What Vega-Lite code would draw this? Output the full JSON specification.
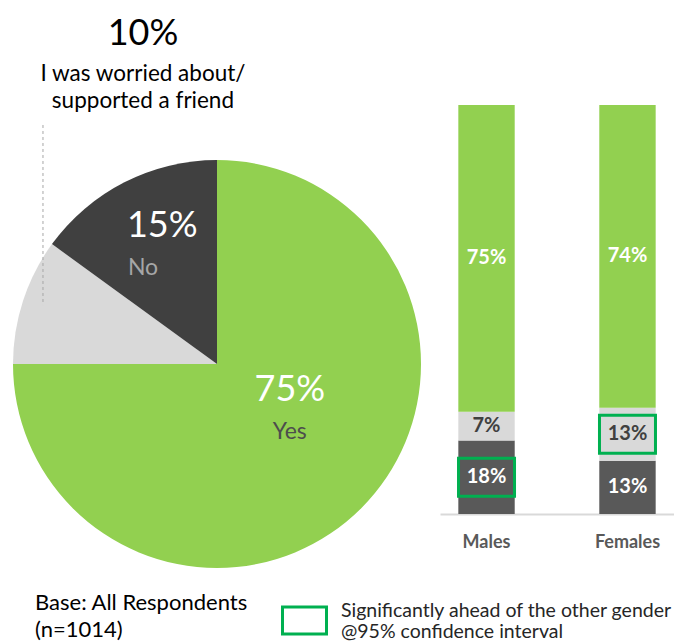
{
  "$schema": "https://vega.github.io/schema/vega-lite/v6.json",
  "background": "white",
  "padding": {"left": 0, "top": 15, "right": 0, "bottom": 0},
  "config": {"view": {"stroke": null}, "font": "Lato"},
  "datasets": {
    "pie": [
      {"cat": "Yes", "v": 75, "o": 1, "pct": "75%"},
      {"cat": "Worried", "v": 10, "o": 2, "pct": "10%"},
      {"cat": "No", "v": 15, "o": 3, "pct": "15%"}
    ],
    "bars": [
      {"g": "Males", "seg": "Dark", "v": 18, "o": 1, "pct": "18%", "sig": "Y"},
      {"g": "Males", "seg": "Grey", "v": 7, "o": 2, "pct": "7%", "sig": "N"},
      {"g": "Males", "seg": "Green", "v": 75, "o": 3, "pct": "75%", "sig": "N"},
      {"g": "Females", "seg": "Dark", "v": 13, "o": 1, "pct": "13%", "sig": "N"},
      {"g": "Females", "seg": "Grey", "v": 13, "o": 2, "pct": "13%", "sig": "Y"},
      {"g": "Females", "seg": "Green", "v": 74, "o": 3, "pct": "74%", "sig": "N"}
    ]
  },
  "spacing": 6,
  "bounds": "flush",
  "resolve": {"scale": {"color": "independent", "x": "independent", "y": "independent"}},
  "hconcat": [
    {
      "width": 434,
      "height": 518,
      "data": {"name": "pie"},
      "layer": [
        {
          "mark": {"type": "arc", "radius": 204, "stroke": null},
          "encoding": {
            "theta": {"field": "v", "type": "quantitative", "stack": true},
            "order": {"field": "o", "type": "quantitative"},
            "color": {"field": "cat", "type": "nominal", "scale": {"domain": ["Yes", "Worried", "No"], "range": ["#92D050", "#D9D9D9", "#404040"]}, "legend": null}
          }
        },
        {
          "mark": {"type": "text", "radius": 103, "fontSize": 36, "color": "white", "dy": -47},
          "encoding": {
            "theta": {"field": "v", "type": "quantitative", "stack": true},
            "order": {"field": "o", "type": "quantitative"},
            "detail": {"field": "cat"},
            "text": {"condition": {"test": "datum.cat === 'Yes'", "field": "pct"}, "value": ""}
          }
        },
        {
          "mark": {"type": "text", "radius": 103, "fontSize": 23, "color": "#4D4D4D", "dy": -5},
          "encoding": {
            "theta": {"field": "v", "type": "quantitative", "stack": true},
            "order": {"field": "o", "type": "quantitative"},
            "detail": {"field": "cat"},
            "text": {"condition": {"test": "datum.cat === 'Yes'", "field": "cat"}, "value": ""}
          }
        },
        {
          "mark": {"type": "text", "radius": 150, "fontSize": 36, "color": "white", "align": "left", "dx": -22, "dy": -4},
          "encoding": {
            "theta": {"field": "v", "type": "quantitative", "stack": true},
            "order": {"field": "o", "type": "quantitative"},
            "detail": {"field": "cat"},
            "text": {"condition": {"test": "datum.cat === 'No'", "field": "pct"}, "value": ""}
          }
        },
        {
          "mark": {"type": "text", "radius": 150, "fontSize": 23, "color": "#A6A6A6", "align": "left", "dx": -21, "dy": 38},
          "encoding": {
            "theta": {"field": "v", "type": "quantitative", "stack": true},
            "order": {"field": "o", "type": "quantitative"},
            "detail": {"field": "cat"},
            "text": {"condition": {"test": "datum.cat === 'No'", "field": "cat"}, "value": ""}
          }
        },
        {
          "data": {"values": [{}]},
          "mark": {"type": "rule", "strokeDash": [3, 3], "color": "#A6A6A6", "strokeWidth": 1},
          "encoding": {
            "x": {"datum": -0.853, "type": "quantitative", "scale": {"domain": [-1.0637, 1.0637], "nice": false, "zero": false}, "axis": null},
            "y": {"datum": 1.1716, "type": "quantitative", "scale": {"domain": [-1.2696, 1.2696], "nice": false, "zero": false}, "axis": null},
            "y2": {"datum": 0.289}
          }
        },
        {
          "mark": {"type": "text", "fontSize": 36, "color": "#000000"},
          "encoding": {
            "x": {"datum": -0.363, "type": "quantitative", "scale": {"domain": [-1.0637, 1.0637], "nice": false, "zero": false}, "axis": null},
            "y": {"datum": 1.618, "type": "quantitative", "scale": {"domain": [-1.2696, 1.2696], "nice": false, "zero": false}, "axis": null},
            "text": {"condition": {"test": "datum.cat === 'Worried'", "field": "pct"}, "value": ""}
          }
        },
        {
          "data": {"values": [{}]},
          "mark": {"type": "text", "fontSize": 22.5, "color": "#000000", "lineHeight": 27},
          "encoding": {
            "x": {"datum": -0.363, "type": "quantitative", "scale": {"domain": [-1.0637, 1.0637], "nice": false, "zero": false}, "axis": null},
            "y": {"datum": 1.4216, "type": "quantitative", "scale": {"domain": [-1.2696, 1.2696], "nice": false, "zero": false}, "axis": null},
            "text": {"value": ["I was worried about/", "supported a friend"]}
          }
        },
        {
          "data": {"values": [{}]},
          "mark": {"type": "text", "fontSize": 22, "color": "#000000", "lineHeight": 27, "align": "left"},
          "encoding": {
            "x": {"datum": -0.892, "type": "quantitative", "scale": {"domain": [-1.0637, 1.0637], "nice": false, "zero": false}, "axis": null},
            "y": {"datum": -1.171, "type": "quantitative", "scale": {"domain": [-1.2696, 1.2696], "nice": false, "zero": false}, "axis": null},
            "text": {"value": ["Base: All Respondents", "(n=1014)"]}
          }
        }
      ]
    },
    {
      "width": 234,
      "height": 409,
      "data": {"name": "bars"},
      "encoding": {
        "x": {
          "field": "g", "type": "nominal", "sort": ["Males", "Females"],
          "scale": {"paddingInner": 0.6, "paddingOuter": 0.13},
          "axis": {"title": null, "labelAngle": 0, "ticks": false, "grid": false, "domainColor": "#D9D9D9", "domainWidth": 2, "labelFont": "Lato", "labelFontSize": 18, "labelFontWeight": "bold", "labelColor": "#595959", "labelPadding": 19}
        },
        "order": {"field": "o", "type": "quantitative"}
      },
      "layer": [
        {
          "mark": {"type": "bar"},
          "encoding": {
            "y": {"field": "v", "type": "quantitative", "stack": "zero", "scale": {"domain": [0, 100], "nice": false}, "axis": null},
            "color": {"field": "seg", "type": "nominal", "scale": {"domain": ["Dark", "Grey", "Green"], "range": ["#595959", "#D9D9D9", "#92D050"]}, "legend": null}
          }
        },
        {
          "mark": {"type": "text", "fontSize": 20, "fontWeight": "bold"},
          "encoding": {
            "y": {"field": "v", "type": "quantitative", "stack": "zero", "bandPosition": 0.5},
            "detail": {"field": "seg"},
            "text": {"field": "pct"},
            "color": {"condition": {"test": "datum.seg === 'Grey'", "value": "#404040"}, "value": "white"}
          }
        },
        {
          "mark": {"type": "point", "shape": "M-1,-0.68L1,-0.68L1,0.68L-1,0.68Z", "size": 3136, "filled": false, "strokeWidth": 3, "opacity": 1},
          "encoding": {
            "y": {"field": "v", "type": "quantitative", "stack": "zero", "bandPosition": 0.5},
            "detail": {"field": "seg"},
            "stroke": {
              "field": "sig", "type": "nominal",
              "scale": {"domain": ["Y", "N"], "range": ["#00B050", "transparent"]},
              "legend": {
                "values": ["Y"], "orient": "none", "legendX": 281, "legendY": 492, "title": null,
                "symbolType": "M-1,-0.61L1,-0.61L1,0.61L-1,0.61Z", "symbolSize": 1936, "symbolStrokeWidth": 3,
                "labelExpr": "['Significantly ahead of the other gender', '@95% confidence interval']",
                "labelFontSize": 19.5, "labelFont": "Lato", "labelColor": "#262626", "labelOffset": 13, "labelLimit": 0,
                "labelBaseline": "bottom", "labelLineHeight": 21
              }
            }
          }
        }
      ]
    }
  ]
}
